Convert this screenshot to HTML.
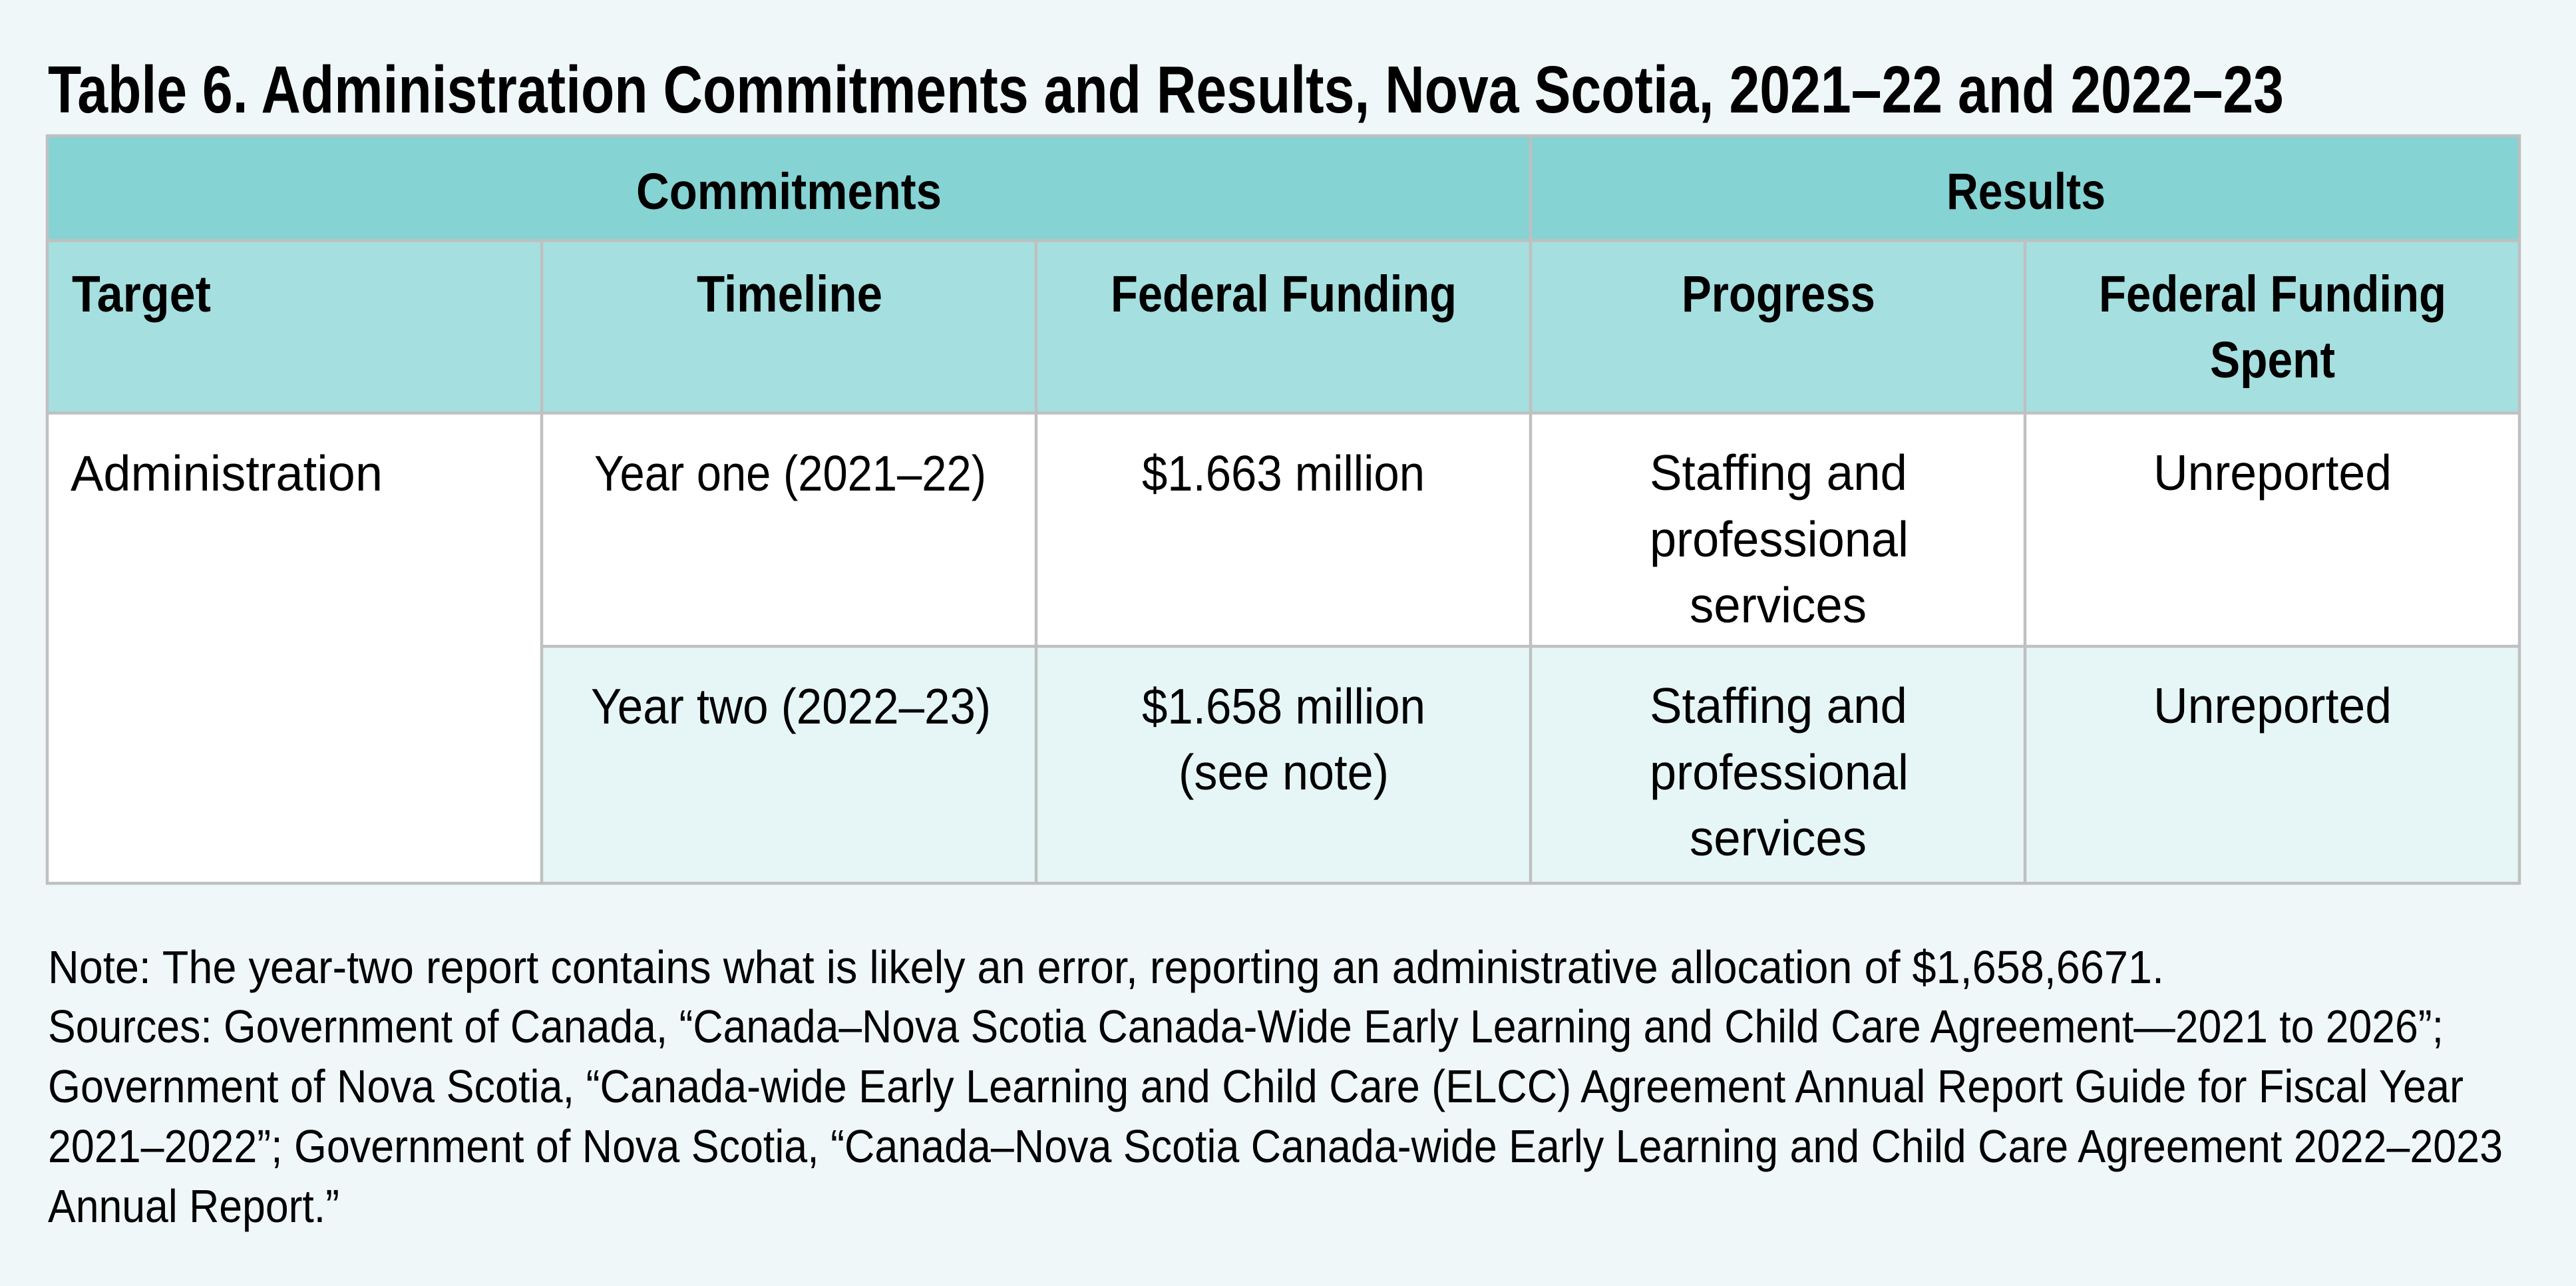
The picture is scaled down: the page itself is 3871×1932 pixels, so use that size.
<!DOCTYPE html>
<html>
<head>
<meta charset="utf-8">
<style>
  html, body { margin: 0; padding: 0; background: #eff7f8; }
  svg { display: block; }
  .t { font-family: "Liberation Sans Narrow", "Liberation Sans", sans-serif; fill: #000; }
  .b { font-weight: bold; }
</style>
</head>
<body>
<svg width="3871" height="1932" viewBox="0 0 3871 1932" xmlns="http://www.w3.org/2000/svg">
  <rect x="0" y="0" width="3871" height="1932" fill="#eff7f8"/>

  <!-- Title -->
  <text class="t b" x="72" y="169" font-size="100" textLength="3360" lengthAdjust="spacingAndGlyphs">Table 6. Administration Commitments and Results, Nova Scotia, 2021–22 and 2022–23</text>

  <!-- Cell backgrounds -->
  <rect x="71" y="204" width="3715" height="158" fill="#86d3d4"/>
  <rect x="71" y="362" width="3715" height="259" fill="#a6dfdf"/>
  <rect x="71" y="621" width="3715" height="350" fill="#ffffff"/>
  <rect x="814" y="971" width="2972" height="356" fill="#e6f6f6"/>
  <rect x="71" y="971" width="743" height="356" fill="#ffffff"/>

  <!-- Borders -->
  <g stroke="#bfc0c0" stroke-width="4.5" fill="none">
    <rect x="71" y="204" width="3715" height="1123"/>
    <line x1="71" y1="361.5" x2="3786" y2="361.5"/>
    <line x1="71" y1="620.5" x2="3786" y2="620.5"/>
    <line x1="814" y1="971" x2="3786" y2="971"/>
    <line x1="2300" y1="204" x2="2300" y2="1327"/>
    <line x1="814" y1="361.5" x2="814" y2="1327"/>
    <line x1="1557" y1="361.5" x2="1557" y2="1327"/>
    <line x1="3043" y1="361.5" x2="3043" y2="1327"/>
  </g>

  <!-- Header row 1 -->
  <text class="t b" x="956" y="314" font-size="77" textLength="459" lengthAdjust="spacingAndGlyphs">Commitments</text>
  <text class="t b" x="2925" y="314" font-size="77" textLength="239" lengthAdjust="spacingAndGlyphs">Results</text>

  <!-- Header row 2 -->
  <text class="t b" x="108" y="468" font-size="77" textLength="209" lengthAdjust="spacingAndGlyphs">Target</text>
  <text class="t b" x="1047" y="468" font-size="77" textLength="279" lengthAdjust="spacingAndGlyphs">Timeline</text>
  <text class="t b" x="1669" y="468" font-size="77" textLength="520" lengthAdjust="spacingAndGlyphs">Federal Funding</text>
  <text class="t b" x="2527" y="468" font-size="77" textLength="291" lengthAdjust="spacingAndGlyphs">Progress</text>
  <text class="t b" x="3154" y="468" font-size="77" textLength="522" lengthAdjust="spacingAndGlyphs">Federal Funding</text>
  <text class="t b" x="3321" y="567" font-size="77" textLength="188" lengthAdjust="spacingAndGlyphs">Spent</text>

  <!-- Row 3 -->
  <text class="t" x="106" y="737" font-size="75" textLength="469" lengthAdjust="spacingAndGlyphs">Administration</text>
  <text class="t" x="893" y="737" font-size="75" textLength="589" lengthAdjust="spacingAndGlyphs">Year one (2021–22)</text>
  <text class="t" x="1716" y="737" font-size="75" textLength="425" lengthAdjust="spacingAndGlyphs">$1.663 million</text>
  <text class="t" x="2479" y="736" font-size="75" textLength="387" lengthAdjust="spacingAndGlyphs">Staffing and</text>
  <text class="t" x="2479" y="836" font-size="75" textLength="389" lengthAdjust="spacingAndGlyphs">professional</text>
  <text class="t" x="2539" y="935" font-size="75" textLength="266" lengthAdjust="spacingAndGlyphs">services</text>
  <text class="t" x="3236" y="736" font-size="75" textLength="358" lengthAdjust="spacingAndGlyphs">Unreported</text>

  <!-- Row 4 -->
  <text class="t" x="888" y="1087" font-size="75" textLength="601" lengthAdjust="spacingAndGlyphs">Year two (2022–23)</text>
  <text class="t" x="1716" y="1087" font-size="75" textLength="426" lengthAdjust="spacingAndGlyphs">$1.658 million</text>
  <text class="t" x="1771" y="1186" font-size="75" textLength="316" lengthAdjust="spacingAndGlyphs">(see note)</text>
  <text class="t" x="2479" y="1086" font-size="75" textLength="387" lengthAdjust="spacingAndGlyphs">Staffing and</text>
  <text class="t" x="2479" y="1186" font-size="75" textLength="389" lengthAdjust="spacingAndGlyphs">professional</text>
  <text class="t" x="2539" y="1285" font-size="75" textLength="266" lengthAdjust="spacingAndGlyphs">services</text>
  <text class="t" x="3236" y="1086" font-size="75" textLength="358" lengthAdjust="spacingAndGlyphs">Unreported</text>

  <!-- Notes -->
  <text class="t" x="72" y="1477" font-size="70" textLength="3180" lengthAdjust="spacingAndGlyphs">Note: The year-two report contains what is likely an error, reporting an administrative allocation of $1,658,6671.</text>
  <text class="t" x="72" y="1566" font-size="70" textLength="3600" lengthAdjust="spacingAndGlyphs">Sources: Government of Canada, “Canada–Nova Scotia Canada-Wide Early Learning and Child Care Agreement—2021 to 2026”;</text>
  <text class="t" x="72" y="1656" font-size="70" textLength="3630" lengthAdjust="spacingAndGlyphs">Government of Nova Scotia, “Canada-wide Early Learning and Child Care (ELCC) Agreement Annual Report Guide for Fiscal Year</text>
  <text class="t" x="72" y="1746" font-size="70" textLength="3689" lengthAdjust="spacingAndGlyphs">2021–2022”; Government of Nova Scotia, “Canada–Nova Scotia Canada-wide Early Learning and Child Care Agreement 2022–2023</text>
  <text class="t" x="72" y="1836" font-size="70" textLength="438" lengthAdjust="spacingAndGlyphs">Annual Report.”</text>
</svg>
</body>
</html>
